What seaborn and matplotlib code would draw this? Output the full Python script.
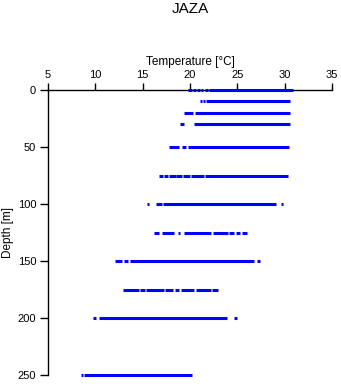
import matplotlib
matplotlib.use("Agg")
import matplotlib.pyplot as plt
import pandas as pd
import seaborn as sns

# Station and sampling depths (m)
station = "JAZA"
depths = [0, 10, 20, 30, 50, 75, 100, 125, 150, 175, 200, 250]

# Observed temperature runs (°C) at each depth: (start, end) of each stretch of readings
temp_runs = [
    [(19.82, 20.24), (20.35, 20.60), (20.77, 21.06), (21.20, 21.40), (21.58, 21.93), (22.04, 30.85)],
    [(21.06, 21.30), (21.40, 21.58), (21.69, 30.56)],
    [(19.37, 20.28), (20.53, 30.56)],
    [(18.94, 19.33), (20.42, 30.56)],
    [(17.78, 18.84), (19.15, 19.54), (19.79, 30.46)],
    [(16.72, 17.20), (17.30, 17.70), (17.80, 18.49), (18.55, 19.20), (19.30, 20.00), (20.10, 21.48), (21.62, 30.32)],
    [(15.49, 15.70), (16.41, 17.01), (17.18, 29.08), (29.58, 29.86)],
    [(16.20, 16.73), (17.04, 18.34), (18.77, 18.94), (19.33, 22.25), (22.40, 23.98), (24.12, 24.68), (24.86, 25.25), (25.49, 25.99)],
    [(12.08, 12.82), (13.03, 13.49), (13.70, 26.76), (27.11, 27.39)],
    [(12.89, 14.61), (14.72, 15.25), (15.35, 17.22), (17.36, 18.17), (18.45, 18.84), (19.05, 20.42), (20.60, 22.25), (22.36, 22.96)],
    [(9.72, 10.04), (10.39, 23.94), (24.65, 24.93)],
    [(8.45, 8.66), (8.80, 20.20)],
]

x_ticks = [5, 10, 15, 20, 25, 30, 35]
y_ticks = [0, 50, 100, 150, 200, 250]

rows = []
run_id = 0
for depth, runs in zip(depths, temp_runs):
    for t0, t1 in runs:
        rows.append({"run": run_id, "depth": depth, "temp": t0})
        rows.append({"run": run_id, "depth": depth, "temp": t1})
        run_id += 1
df = pd.DataFrame(rows)

plt.rcParams["font.family"] = ["Liberation Sans", "DejaVu Sans"]

fig = plt.figure(figsize=(3.41, 3.84), dpi=100)
ax = fig.add_axes([48 / 341, 1 - 375 / 384, 284 / 341, 285 / 384])

sns.lineplot(data=df, x="temp", y="depth", units="run", estimator=None,
             sort=False, color="#0000ff", linewidth=2.2, ax=ax,
             solid_capstyle="butt", clip_on=False, zorder=5)

ax.set_xlim(5, 35)
ax.set_ylim(250, 0)
ax.set_xticks(x_ticks)
ax.set_yticks(y_ticks)
ax.xaxis.tick_top()
ax.xaxis.set_label_position("top")
ax.set_xlabel("Temperature [°C]", fontsize=8.5, labelpad=3)
ax.set_ylabel("Depth [m]", fontsize=8.5, labelpad=3)
ax.tick_params(axis="x", length=5, width=1, pad=2.5, labelsize=8)
ax.tick_params(axis="y", length=6, width=1, pad=2.5, labelsize=8)

for side in ("right", "bottom"):
    ax.spines[side].set_visible(False)
for side in ("top", "left"):
    ax.spines[side].set_linewidth(1)
    ax.spines[side].set_color("black")

fig.text(190 / 341, 1 - 9 / 384, station, ha="center", va="center", fontsize=11)

fig.savefig("out.png", dpi=100)
